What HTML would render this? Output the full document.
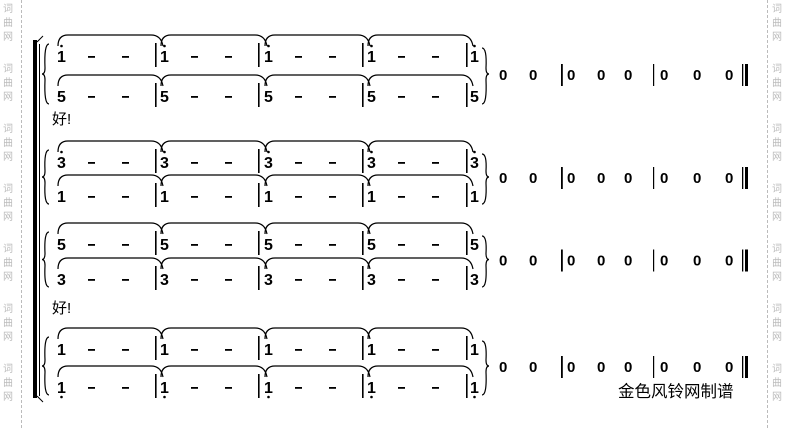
<!DOCTYPE html>
<html><head><meta charset="utf-8"><style>
html,body{margin:0;padding:0;background:#fff;width:790px;height:429px;overflow:hidden;}
svg{display:block;}
text{font-family:"Liberation Sans","Noto Sans CJK SC",sans-serif;}
</style></head><body>
<svg id="s" width="790" height="429" xmlns="http://www.w3.org/2000/svg"></svg>
<script>
const s=document.getElementById('s');let h='';
h+='<line x1="21.5" y1="0" x2="21.5" y2="429" stroke="#bbb" stroke-dasharray="3,2"/>';
h+='<line x1="767.5" y1="0" x2="767.5" y2="429" stroke="#bbb" stroke-dasharray="3,2"/>';
for(let g=0;g<8;g++){const y=g*60;['词','曲','网'].forEach((c,i)=>{
 if(y+10+i*14<429){
 h+=`<text x="3" y="${y+12+i*14}" font-size="10" fill="#bbb">${c}</text>`;
 h+=`<text x="772" y="${y+12+i*14}" font-size="10" fill="#bbb">${c}</text>`;}});}
h+='<rect x="33" y="40" width="4" height="358" fill="#000"/>';
h+='<line x1="39.5" y1="44" x2="39.5" y2="396" stroke="#000"/>';
h+='<path d="M37 42 L43 36 M37 396 L43 402" stroke="#000" fill="none"/>';
const rows=[[56,96,'1',1,'5',0],[162,196,'3',1,'1',0],[244,279,'5',0,'3',0],[349,387,'1',0,'1',-1]];
const notesX=[57,160,264,367,470],bars=[155,258,362,466];
function staff(y,d,dot){
 for(let m=0;m<4;m++){const a=notesX[m]+1,b=notesX[m+1]+3,t=y-21;
  h+=`<path d="M${a} ${y-10} Q${a} ${t} ${a+10} ${t} L${b-12} ${t} Q${b-2} ${t} ${b} ${y-10}" stroke="#000" fill="none" stroke-width="1.2"/>`;}
 notesX.forEach((x,i)=>{
  h+=`<text x="${x}" y="${y+6}" font-size="16" font-weight="bold">${d}</text>`;
  if(dot==1)h+=`<circle cx="${x+4.5}" cy="${y-10}" r="1.3"/>`;
  if(dot==-1)h+=`<circle cx="${x+4.5}" cy="${y+10}" r="1.3"/>`;
  if(i<4){h+=`<rect x="${x+31}" y="${y}" width="7" height="1.8"/><rect x="${x+65}" y="${y}" width="7" height="1.8"/>`;}
 });
 bars.forEach(x=>h+=`<rect x="${x}" y="${y-13}" width="1.6" height="24"/>`);
}
rows.forEach(r=>{
 staff(r[0],r[2],r[3]);staff(r[1],r[4],r[5]);
 const a=r[0]-12,b=r[1]+8,m=(a+b)/2;
 h+=`<path d="M49 ${a} Q44 ${a} 45 ${m-6} Q45 ${m} 42 ${m} Q45 ${m} 45 ${m+6} Q44 ${b} 49 ${b}" stroke="#000" fill="none" stroke-width="1.2"/>`;
 h+=`<path d="M482 ${a+4} Q487 ${a+4} 486 ${m-6} Q486 ${m} 489 ${m} Q486 ${m} 486 ${m+6} Q487 ${b} 482 ${b}" stroke="#000" fill="none" stroke-width="1.2"/>`;
 const zy=m+6;
 [499,529,567,597,624,660,693,725].forEach(x=>h+=`<text x="${x}" y="${zy}" font-size="15" font-weight="bold">0</text>`);
 h+=`<rect x="561" y="${zy-16}" width="1.8" height="22"/><rect x="653" y="${zy-16}" width="1.2" height="22"/>`;
 h+=`<rect x="742" y="${zy-16}" width="1.3" height="22"/><rect x="745" y="${zy-16}" width="3" height="22"/>`;
});
h+='<text x="52" y="124" font-size="15" font-family="Liberation Serif,Noto Serif CJK SC,serif">好!</text>';
h+='<text x="52" y="313" font-size="15" font-family="Liberation Serif,Noto Serif CJK SC,serif">好!</text>';
h+='<text x="618" y="397" font-size="16.5" font-family="Liberation Serif,Noto Serif CJK SC,serif">金色风铃网制谱</text>';
s.innerHTML=h;
</script>
</body></html>
